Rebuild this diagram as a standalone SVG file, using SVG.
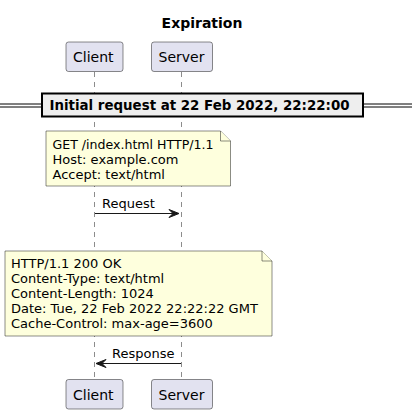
<svg xmlns="http://www.w3.org/2000/svg" width="412" height="415" viewBox="0 0 412 415">
<style>
text{font-family:"DejaVu Sans",sans-serif;fill:#000}
.life{stroke:#181818;stroke-width:0.5;stroke-dasharray:5,5;fill:none}
.part{fill:#E2E2F0;stroke:#181818;stroke-width:0.5}
.plbl{font-size:14px}
.note{fill:#FEFFDD;stroke:#181818;stroke-width:0.5}
.ntxt{font-size:13px}
.msg{stroke:#181818;stroke-width:1;fill:none}
.head{fill:#181818;stroke:#181818;stroke-width:1}
</style>
<rect width="412" height="415" fill="#FFFFFF"/>
<text x="202" y="28" text-anchor="middle" style="font-size:14px;font-weight:bold">Expiration</text>
<g id="lifelines">
<line class="life" x1="94.5" y1="72" x2="94.5" y2="380"/>
<line class="life" x1="181.5" y1="72" x2="181.5" y2="380"/>
</g>
<g id="client">
<rect class="part" x="66" y="42" width="57" height="29.5" rx="2.5"/>
<text class="plbl" x="73" y="62">Client</text>
<rect class="part" x="66" y="379.5" width="57" height="29.5" rx="2.5"/>
<text class="plbl" x="73" y="399.5">Client</text>
</g>
<g id="server">
<rect class="part" x="151.5" y="42" width="61" height="29.5" rx="2.5"/>
<text class="plbl" x="158.5" y="62">Server</text>
<rect class="part" x="151.5" y="379.5" width="61" height="29.5" rx="2.5"/>
<text class="plbl" x="158.5" y="399.5">Server</text>
</g>
<g id="divider">
<line x1="0" y1="104" x2="412" y2="104" stroke="#000" stroke-width="1"/>
<line x1="0" y1="107" x2="412" y2="107" stroke="#000" stroke-width="1"/>
<rect x="42" y="93.5" width="321" height="23" fill="#EEEEEE" stroke="#000" stroke-width="2"/>
<text x="49.5" y="110" textLength="300" lengthAdjust="spacingAndGlyphs" style="font-size:13.4px;font-weight:bold">Initial request at 22 Feb 2022, 22:22:00</text>
</g>
<g id="note1">
<path class="note" d="M46,131 L220.5,131 L230.5,141 L230.5,186 L46,186 Z"/>
<path class="note" d="M220.5,131 L220.5,141 L230.5,141"/>
<text class="ntxt" x="52.5" y="149.3" textLength="161" lengthAdjust="spacingAndGlyphs">GET /index.html HTTP/1.1</text>
<text class="ntxt" x="52.5" y="164">Host: example.com</text>
<text class="ntxt" x="52.5" y="178.7">Accept: text/html</text>
</g>
<g id="note2">
<path class="note" d="M5,251 L262,251 L272,261 L272,336 L5,336 Z"/>
<path class="note" d="M262,251 L262,261 L272,261"/>
<text class="ntxt" x="11" y="268.3">HTTP/1.1 200 OK</text>
<text class="ntxt" x="11" y="283.3">Content-Type: text/html</text>
<text class="ntxt" x="11" y="298.3">Content-Length: 1024</text>
<text class="ntxt" x="11" y="313.3">Date: Tue, 22 Feb 2022 22:22:22 GMT</text>
<text class="ntxt" x="11" y="328.3">Cache-Control: max-age=3600</text>
</g>
<g id="connectors">
<line class="msg" x1="95" y1="213.5" x2="176" y2="213.5"/>
<polygon class="head" points="169,209.5 179,213.5 169,217.5 173,213.5"/>
<text class="ntxt" x="102" y="207.5">Request</text>
<line class="msg" x1="99" y1="363.5" x2="181" y2="363.5"/>
<polygon class="head" points="106,359.5 96,363.5 106,367.5 102,363.5"/>
<text class="ntxt" x="112" y="358">Response</text>
</g>
</svg>
